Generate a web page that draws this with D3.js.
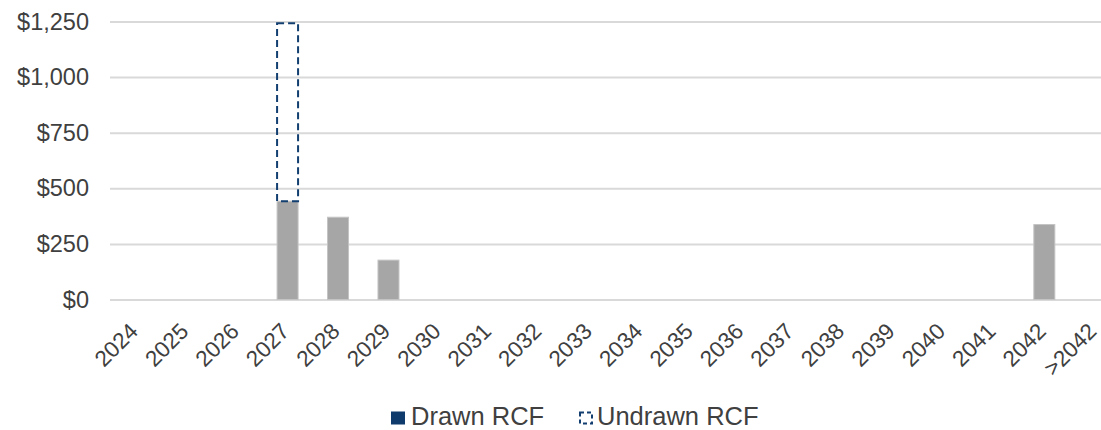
<!DOCTYPE html>
<html>
<head>
<meta charset="utf-8">
<script src="https://cdn.jsdelivr.net/npm/d3@7"></script>
<style>
  html, body { margin: 0; padding: 0; background: #fff; }
  svg { display: block; font-family: "Liberation Sans", Arial, sans-serif; }
</style>
</head>
<body>
<svg id="chart" width="1101" height="430"></svg>
<script>
// ---- data ----
const categories = ["2024","2025","2026","2027","2028","2029","2030","2031","2032","2033",
                    "2034","2035","2036","2037","2038","2039","2040","2041","2042",">2042"];
const otherDebt  = [0,0,0,442,370,177,0,0,0,0,0,0,0,0,0,0,0,0,337,0];
const drawnRCF   = [0,0,0,0,0,0,0,0,0,0,0,0,0,0,0,0,0,0,0,0];
const undrawnRCF = [0,0,0,800,0,0,0,0,0,0,0,0,0,0,0,0,0,0,0,0];
const yTicks = [0,250,500,750,1000,1250];
const legendItems = ["Drawn RCF","Undrawn RCF"];

// ---- layout ----
const svg = d3.select("#chart");
const x = d3.scaleBand().domain(categories).range([111, 1120]).paddingInner(0.584).paddingOuter(0.292);
const y = d3.scaleLinear().domain([0, 1250]).range([299.5, 21.5]);
const fmt = v => "$" + d3.format(",")(v);

// gridlines + y labels
const yAxis = d3.axisLeft(y).tickValues(yTicks).tickFormat(fmt).tickSize(0).tickPadding(21);
const gy = svg.append("g").attr("transform", "translate(110,0)").call(yAxis);
gy.select(".domain").remove();
gy.selectAll(".tick text").attr("fill", "#404040").style("font-size", "23.5px");
gy.selectAll(".tick line").attr("x2", 1000).attr("stroke", "#d9d9d9").attr("stroke-width", 2);

// stacked data
const rows = categories.map((c, i) => ({cat: c, other: otherDebt[i], drawn: drawnRCF[i], undrawn: undrawnRCF[i]}));
const stack = d3.stack().keys(["other","drawn","undrawn"])(rows);

// grey bars
svg.append("g").selectAll("rect").data(stack[0].filter(d => d[1] > d[0])).join("rect")
  .attr("x", d => x(d.data.cat)).attr("width", x.bandwidth())
  .attr("y", d => y(d[1])).attr("height", d => y(d[0]) - y(d[1]))
  .attr("fill", "#a6a6a6").attr("stroke", "#c4c4c4").attr("stroke-width", 1);

// drawn bars
svg.append("g").selectAll("rect").data(stack[1].filter(d => d[1] > d[0])).join("rect")
  .attr("x", d => x(d.data.cat)).attr("width", x.bandwidth())
  .attr("y", d => y(d[1])).attr("height", d => y(d[0]) - y(d[1]))
  .attr("fill", "#0e3a6c");

// undrawn dashed bars
svg.append("g").selectAll("rect").data(stack[2].filter(d => d[1] > d[0])).join("rect")
  .attr("x", d => x(d.data.cat)).attr("width", x.bandwidth())
  .attr("y", d => y(d[1])).attr("height", d => y(d[0]) - y(d[1]))
  .attr("fill", "none").attr("stroke", "#123f70").attr("stroke-width", 2)
  .attr("stroke-dasharray", "7,4");

// x labels
const xAxis = d3.axisBottom(x).tickSize(0).tickPadding(0);
const gx = svg.append("g").attr("transform", "translate(0,299.5)").call(xAxis);
gx.select(".domain").remove();
gx.selectAll(".tick text")
  .attr("fill", "#404040").style("font-size", "22.5px")
  .attr("text-anchor", "end")
  .attr("dy", "0.7em")
  .attr("transform", "translate(-8,22) rotate(-45)");

// legend
const lg = svg.append("g");
lg.append("rect").attr("x", 391).attr("y", 411.5).attr("width", 14).attr("height", 13).attr("fill", "#0e3a6c");
lg.append("text").attr("x", 411).attr("y", 424.5).attr("fill", "#404040").style("font-size", "25.5px").text(legendItems[0]);
lg.append("rect").attr("x", 580).attr("y", 412.5).attr("width", 12).attr("height", 11)
  .attr("fill", "none").attr("stroke", "#123f70").attr("stroke-width", 2).attr("stroke-dasharray", "4,3");
lg.append("text").attr("x", 597).attr("y", 424.5).attr("fill", "#404040").style("font-size", "25.5px").text(legendItems[1]);
</script>
</body>
</html>
